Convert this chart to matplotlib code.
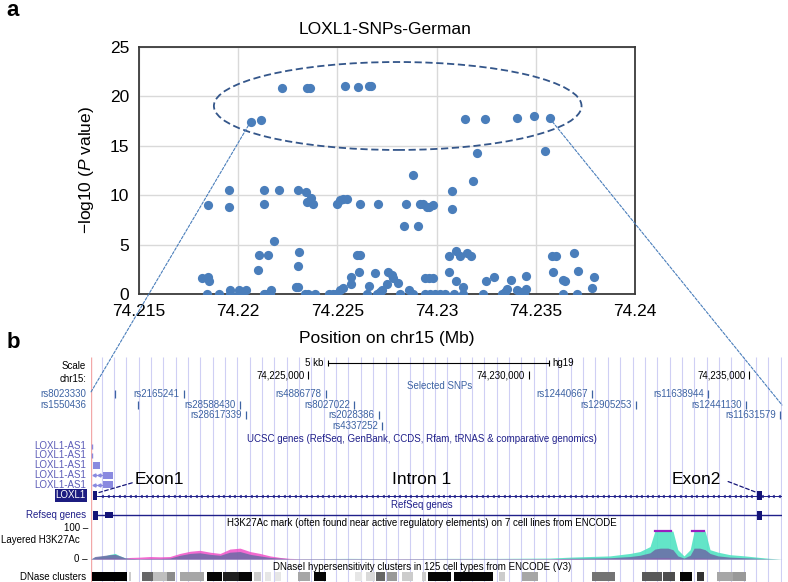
import numpy as np
import matplotlib
matplotlib.use('Agg')
import matplotlib.pyplot as plt
from matplotlib.patches import Ellipse, Rectangle, ConnectionPatch
import matplotlib.transforms as mtransforms

plt.rcParams['font.family'] = ['Liberation Sans', 'DejaVu Sans']
plt.rcParams['mathtext.fontset'] = 'custom'
plt.rcParams['mathtext.rm'] = 'Liberation Sans'
plt.rcParams['mathtext.it'] = 'Liberation Sans:italic'

# ---------------- data: panel a ----------------
sel_names = ['rs8023330', 'rs1550436', 'rs2165241', 'rs28588430', 'rs28617339',
             'rs4886778', 'rs8027022', 'rs2028386', 'rs4337252', 'rs12440667',
             'rs12905253', 'rs11638944', 'rs12441130', 'rs11631579']
sel_pos = [74.22063, 74.22115, 74.22219, 74.22345, 74.22360, 74.22540, 74.22605,
           74.22660, 74.22668, 74.23143, 74.23244, 74.23407, 74.23492, 74.23570]
sel_logp = [17.45, 17.65, 20.9, 20.9, 20.9, 21.05, 21.0, 21.05, 21.05,
            17.75, 17.75, 17.78, 18.05, 17.78]
sel_row = [0, 1, 0, 1, 2, 0, 1, 2, 3, 0, 1, 0, 1, 2]

other_pos = [74.23205, 74.23548,
             74.21846, 74.21956, 74.21956, 74.22128, 74.22132, 74.22206, 74.22299, 74.22340,
             74.22345, 74.22367, 74.22376, 74.22496, 74.22513, 74.22527, 74.22548, 74.22614,
             74.22705, 74.22846, 74.22880, 74.22837, 74.22908, 74.22914, 74.22933, 74.22950,
             74.22963, 74.22980, 74.23078, 74.23080, 74.23185,
             74.22182, 74.22106, 74.22149, 74.22101, 74.22304, 74.22303, 74.22600, 74.22616,
             74.22609, 74.22690, 74.22757, 74.23064, 74.23064, 74.23098, 74.23118, 74.23152,
             74.23172, 74.23583, 74.23600, 74.23694, 74.23588, 74.23711,
             74.21816, 74.21849, 74.21853, 74.22569, 74.22569, 74.22774, 74.22782, 74.22807,
             74.22661, 74.22748, 74.22942, 74.22963, 74.22980, 74.23098, 74.23135, 74.23249,
             74.23291, 74.23373, 74.23449, 74.23639, 74.23647, 74.23793, 74.23785, 74.22290,
             74.22303, 74.21957, 74.22004, 74.22038, 74.22165, 74.22513, 74.22527, 74.22726,
             74.22862, 74.23356, 74.23404, 74.23449, 74.23420, 74.23345, 74.22715,
             74.21843, 74.21905, 74.21957, 74.22004, 74.22013, 74.22132, 74.22135, 74.22160,
             74.22337, 74.22350, 74.22387, 74.22459, 74.22476, 74.22493, 74.22648, 74.22698,
             74.22711, 74.22816, 74.22883, 74.22942, 74.22967, 74.22992, 74.23017, 74.23042,
             74.23088, 74.23132, 74.23235, 74.23328, 74.23440, 74.23639, 74.23708]
other_logp = [14.25, 14.5,
              9.0, 10.5, 8.8, 10.5, 9.1, 10.5, 10.5, 10.3,
              9.35, 9.7, 9.08, 9.08, 9.5, 9.65, 9.6, 9.08,
              9.08, 9.1, 12.05, 6.9, 6.9, 9.1, 9.1, 8.85,
              8.77, 9.05, 10.4, 8.6, 11.4,
              5.38, 3.95, 3.95, 2.43, 4.3, 2.87, 3.95, 3.95,
              2.26, 2.1, 2.26, 2.2, 3.85, 4.38, 3.85, 4.18,
              3.85, 3.85, 3.85, 4.2, 2.26, 2.33,
              1.65, 1.75, 1.35, 1.69, 0.98, 1.9, 1.65, 1.15,
              0.85, 1.0, 1.65, 1.65, 1.65, 1.3, 0.74, 1.35,
              1.69, 1.42, 1.82, 1.42, 1.3, 1.75, 0.58, 0.68,
              0.74, 0.4, 0.4, 0.4, 0.4, 0.4, 0.64, 0.4,
              0.4, 0.48, 0.4, 0.48, 0.23, 0.23, 0.23,
              0, 0, 0, 0, 0, 0, 0, 0,
              0, 0, 0, 0, 0, 0, 0, 0,
              0, 0, 0, 0, 0, 0, 0, 0,
              0, 0, 0, 0, 0, 0, 0]

x_ticks = [74.215, 74.22, 74.225, 74.23, 74.235, 74.24]
x_ticklabels = ['74.215', '74.22', '74.225', '74.23', '74.235', '74.24']
y_ticks = [0, 5, 10, 15, 20, 25]

# ---------------- data: panel b (genome browser, Mb) ----------------
view_start, view_end = 74.220083, 74.235741
coord_ticks = [74.225, 74.230, 74.235]
coord_labels = ['74,225,000', '74,230,000', '74,235,000']
scale_bar = [74.22545, 74.23045]

as1_rows = ['LOXL1-AS1'] * 5
as1_tick = [74.22011, 74.22011]              # tiny features (rows 0,1)
as1_box_row2 = [74.22013, 74.22029]
as1_arrow = [74.22013, 74.22035]
as1_box_row34 = [74.22035, 74.22058]

loxl1_exon1 = [74.22012, 74.22023]
loxl1_exon2 = [74.23517, 74.23528]
refseq_exons = [(74.22013, 74.22024), (74.22040, 74.22058), (74.23517, 74.23528)]

h3_pos = [74.22008, 74.22017, 74.22029, 74.22040, 74.22051, 74.22063, 74.22074, 74.22085,
          74.22097, 74.22119, 74.22142, 74.22165, 74.22187, 74.22210, 74.22233, 74.22255,
          74.22278, 74.22301, 74.22323, 74.22346, 74.22369, 74.22391, 74.22414, 74.22437,
          74.22459, 74.22482, 74.22595, 74.22709, 74.22822, 74.22935, 74.23048, 74.23094,
          74.23139, 74.23184, 74.23230, 74.23252, 74.23275, 74.23286, 74.23298, 74.23316,
          74.23327, 74.23338, 74.23352, 74.23366, 74.23375, 74.23388, 74.23400, 74.23411,
          74.23429, 74.23456, 74.23490, 74.23524, 74.23547, 74.23574]
h3_pink = [0, 2, 3, 3, 4, 4, 3, 2, 5, 6, 8, 7, 8, 18, 25, 28, 22, 18, 32, 35, 24, 18, 10, 5,
           2, 1, 1, 1, 1, 1, 1, 2, 1, 2, 2, 3, 4, 5, 5, 5, 3, 2, 1, 2, 4, 4, 3, 2, 1, 1, 1, 0, 0, 0]
h3_teal = [0, 5, 8, 10, 15, 18, 10, 4, 2, 1, 1, 1, 2, 3, 3, 2, 2, 2, 3, 3, 2, 2, 1, 1,
           1, 1, 2, 1, 2, 2, 3, 6, 8, 10, 18, 24, 40, 90, 90, 90, 90, 30, 10, 30, 90, 90, 90, 30,
           22, 14, 10, 5, 2, 0]
h3_purple = [0, 8, 10, 12, 14, 15, 10, 4, 2, 1, 2, 2, 3, 12, 18, 20, 15, 12, 22, 24, 15, 10, 5, 3,
             1, 1, 1, 1, 1, 1, 1, 2, 3, 4, 8, 12, 20, 32, 35, 35, 30, 10, 3, 12, 35, 35, 30, 18,
             10, 6, 4, 2, 1, 0]
h3_clip = [(74.23286, 74.23322), (74.23370, 74.23398)]

dnase_start = [74.22011, 74.22094, 74.22124, 74.22149, 74.22180, 74.22210, 74.22271, 74.22307,
               74.22344, 74.22378, 74.22403, 74.22425, 74.22477, 74.22514, 74.22607, 74.22632,
               74.22654, 74.22679, 74.22713, 74.22758, 74.22772, 74.22831, 74.22933, 74.22985,
               74.23144, 74.23257, 74.23304, 74.23343, 74.23381, 74.23427, 74.23463]
dnase_end = [74.22090, 74.22099, 74.22149, 74.22180, 74.22199, 74.22264, 74.22305, 74.22344,
             74.22373, 74.22393, 74.22416, 74.22439, 74.22505, 74.22541, 74.22622, 74.22652,
             74.22675, 74.22702, 74.22738, 74.22767, 74.22824, 74.22919, 74.22946, 74.23021,
             74.23196, 74.23302, 74.23332, 74.23370, 74.23397, 74.23463, 74.23493]
dnase_score = [1.0, 0.2, 0.6, 0.25, 0.45, 0.35, 0.98, 0.88, 0.98, 0.2, 0.1, 0.1, 0.35, 0.98,
               0.1, 0.15, 0.6, 0.4, 0.2, 0.2, 0.98, 0.98, 0.2, 0.35, 0.55, 0.65, 0.7, 0.98,
               0.8, 0.35, 0.4]

# ---------------- figure ----------------
W, H = 788, 582
fig = plt.figure(figsize=(W / 100, H / 100), dpi=100)
fig.patch.set_facecolor('white')

dot_c = '#4a7ebb'
ax = fig.add_axes([139 / W, 1 - 294 / H, 496 / W, 247 / H])
ax.scatter(other_pos, other_logp, s=44, color=dot_c, zorder=3, linewidths=0)
ax.scatter(sel_pos, sel_logp, s=44, color=dot_c, zorder=3, linewidths=0)
ax.set_xlim(74.215, 74.24)
ax.set_ylim(0, 25)
ax.set_xticks(x_ticks)
ax.set_xticklabels(x_ticklabels)
ax.set_yticks(y_ticks)
ax.grid(True, color='#d9d9d9', lw=1.0, zorder=0)
ax.set_axisbelow(True)
for sp in ax.spines.values():
    sp.set_color('#3a3a3a')
    sp.set_linewidth(1.3)
ax.tick_params(length=0, labelsize=12.5, pad=7)
ax.set_xlabel('Position on chr15 (Mb)', fontsize=12.5, labelpad=9)
ax.set_ylabel('\u2212log10 ($P$ value)', fontsize=12.5, labelpad=10)
ax.add_patch(Ellipse((74.22804, 19.03), 0.01853, 8.9, fill=False,
                     ls=(0, (4, 2)), lw=1.3, ec='#34568a', zorder=4))
fig.text(385 / W, 1 - 29 / H, 'LOXL1-SNPs-German', ha='center', va='center', fontsize=12.5)
fig.text(13 / W, 1 - 11 / H, 'a', ha='center', va='center', fontsize=16, fontweight='bold')
fig.text(13 / W, 1 - 343 / H, 'b', ha='center', va='center', fontsize=16, fontweight='bold')

# ---------------- panel b ----------------
axb = fig.add_axes([91 / W, 0, 691 / W, (582 - 352) / H])
axb.set_xlim(view_start, view_end)
axb.set_ylim(582, 352)
axb.axis('off')
left = mtransforms.blended_transform_factory(axb.transAxes, axb.transData)
lx = -5 / 691
bp = (view_end - view_start) / 691  # Mb per pixel

# guide lines
guides = np.arange(view_start + 10.5 * bp, view_end, 12.35 * bp)
axb.vlines(guides, 357, 582, color='#cfcff4', lw=0.8, zorder=0)
axb.vlines([view_start], 357, 582, color='#f2a8a8', lw=1.0, zorder=0)

fs = 7
snp_c = '#3d63a3'
navy = '#20208a'
# scale row
axb.text(lx, 366, 'Scale', transform=left, ha='right', va='center', fontsize=fs)
axb.text(lx, 379, 'chr15:', transform=left, ha='right', va='center', fontsize=fs)
axb.plot(scale_bar, [363, 363], color='black', lw=0.8)
axb.vlines(scale_bar, 360, 366, color='black', lw=0.8)
axb.annotate('5 kb', (scale_bar[0], 363), xytext=(-3, 0), textcoords='offset points',
             ha='right', va='center', fontsize=fs)
axb.annotate('hg19', (scale_bar[1], 363), xytext=(3, 0), textcoords='offset points',
             ha='left', va='center', fontsize=fs)
for p, lab in zip(coord_ticks, coord_labels):
    axb.vlines(p, 371, 379, color='black', lw=0.8)
    axb.annotate(lab, (p, 375), xytext=(-2.5, 0), textcoords='offset points',
                 ha='right', va='center', fontsize=fs)

# selected SNPs
row_y = [394, 405, 415, 426]
axb.text(74.22799, 386, 'Selected SNPs', ha='center', va='center', fontsize=fs, color=snp_c)
for i, (nm, p, r) in enumerate(zip(sel_names, sel_pos, sel_row)):
    y = row_y[r]
    axb.vlines(p, y - 4, y + 4, color=snp_c, lw=0.9)
    if i < 2:
        axb.text(lx, y, nm, transform=left, ha='right', va='center', fontsize=fs, color=snp_c)
    else:
        axb.annotate(nm, (p, y), xytext=(-3, 0), textcoords='offset points',
                     ha='right', va='center', fontsize=fs, color=snp_c)

axb.text(74.22758, 439, 'UCSC genes (RefSeq, GenBank, CCDS, Rfam, tRNAS & comparative genomics)',
         ha='center', va='center', fontsize=fs, color=navy)

# LOXL1-AS1
as1_y = [446, 455.5, 465, 475, 484.5]
as1_c = '#8a8ae0'
for y, nm in zip(as1_y, as1_rows):
    axb.text(lx, y, nm, transform=left, ha='right', va='center', fontsize=fs, color='#5c5cb8')
for y in as1_y[:2]:
    axb.vlines(as1_tick[0], y - 2.5, y + 2.5, color=as1_c, lw=1.0)
axb.add_patch(Rectangle((as1_box_row2[0], as1_y[2] - 3.5), as1_box_row2[1] - as1_box_row2[0], 7,
                        color=as1_c, lw=0))
for y in as1_y[3:]:
    axb.plot(as1_arrow, [y, y], color=as1_c, lw=0.8)
    axb.plot(np.linspace(as1_arrow[0], as1_arrow[1], 3)[:2] + bp, [y, y], ls='none',
             marker='<', ms=2.2, color=as1_c)
    axb.add_patch(Rectangle((as1_box_row34[0], y - 3.5), as1_box_row34[1] - as1_box_row34[0], 7,
                            color=as1_c, lw=0))

# LOXL1 gene
gy = 495.5
axb.text(lx, gy, 'LOXL1', transform=left, ha='right', va='center', fontsize=fs, color='white',
         bbox=dict(boxstyle='square,pad=0.12', fc='#1c1c80', ec='none'))
axb.plot([loxl1_exon1[1], view_end], [gy, gy], color=navy, lw=0.7)
chev = np.arange(loxl1_exon1[1] + 4 * bp, view_end, 5.5 * bp)
axb.plot(chev, np.full(len(chev), gy), ls='none', marker=4, ms=2.0, mew=0.6, color=navy)
for ex in (loxl1_exon1, loxl1_exon2):
    axb.add_patch(Rectangle((ex[0], gy - 4.5), ex[1] - ex[0], 9, color='#141478', lw=0, zorder=3))
axb.annotate('Exon1', xy=(loxl1_exon1[1] + 1.5 * bp, gy - 3), xytext=(74.22108, 479),
             ha='left', va='center', fontsize=12.5,
             arrowprops=dict(arrowstyle='-', ls=(0, (3, 2)), lw=0.9, color='#141478',
                             shrinkA=0, shrinkB=0, relpos=(0, 0.3)))
axb.text(74.22758, 479, 'Intron 1', ha='center', va='center', fontsize=12.5)
axb.annotate('Exon2', xy=(loxl1_exon2[0], gy - 3), xytext=(74.23325, 479),
             ha='left', va='center', fontsize=12.5,
             arrowprops=dict(arrowstyle='-', ls=(0, (3, 2)), lw=0.9, color='#141478',
                             shrinkA=3, shrinkB=0, relpos=(1, 0.5)))

# RefSeq genes
ry = 515
axb.text(74.22758, 505, 'RefSeq genes', ha='center', va='center', fontsize=fs, color=navy)
axb.text(lx, ry, 'Refseq genes', transform=left, ha='right', va='center', fontsize=fs, color=navy)
axb.plot([refseq_exons[0][1], view_end], [ry, ry], color=navy, lw=1.0)
for k, (a0, a1) in enumerate(refseq_exons):
    h = 9 if k != 1 else 6
    axb.add_patch(Rectangle((a0, ry - h / 2), a1 - a0, h, color='#141478', lw=0, zorder=3))

# H3K27Ac
axb.text(74.22758, 523, 'H3K27Ac mark (often found near active regulatory elements) on 7 cell lines from ENCODE',
         ha='center', va='center', fontsize=fs)
axb.text(lx + 2 / 691, 528, '100 \u2013', transform=left, ha='right', va='center', fontsize=fs)
axb.text(lx - 6 / 691, 540, 'Layered H3K27Ac', transform=left, ha='right', va='center', fontsize=fs)
axb.text(lx + 2 / 691, 559, '0 \u2013', transform=left, ha='right', va='center', fontsize=fs)

axh = fig.add_axes([91 / W, (582 - 559) / H, 691 / W, 31 / H])
axh.set_xlim(view_start, view_end)
axh.set_ylim(0, 100)
axh.axis('off')
axh.patch.set_alpha(0)
axh.fill_between(h3_pos, 0, h3_teal, color='#52e3c2', lw=0, alpha=0.9)
axh.fill_between(h3_pos, 0, h3_pink, color='#f050c8', lw=0, alpha=0.85)
axh.fill_between(h3_pos, 0, h3_purple, color='#6c6aa6', lw=0, alpha=0.85)
for a0, a1 in h3_clip:
    axh.plot([a0, a1], [91, 91], color='#9a1fc0', lw=1.6)
axh.axhline(0, color='#333333', lw=0.7)

# DNase clusters
axb.text(74.22758, 567, 'DNaseI hypersensitivity clusters in 125 cell types from ENCODE (V3)',
         ha='center', va='center', fontsize=fs)
axb.text(lx, 576.5, 'DNase clusters', transform=left, ha='right', va='center', fontsize=fs)
for a0, a1, sc in zip(dnase_start, dnase_end, dnase_score):
    g = 1 - sc
    axb.add_patch(Rectangle((a0, 572), a1 - a0, 9, color=(g, g, g), lw=0))

# connection lines between panels
for (pa, ya), (pb, yb) in [((sel_pos[0], sel_logp[0]), (view_start, 392)),
                           ((sel_pos[-1], sel_logp[-1]), (view_end, 405))]:
    con = ConnectionPatch(xyA=(pa, ya), coordsA=ax.transData, xyB=(pb, yb), coordsB=axb.transData,
                          color='#4a7ebb', lw=0.8, ls=(0, (2.5, 1.5)), zorder=5)
    fig.add_artist(con)

fig.savefig('out.png', dpi=100, facecolor='white')
